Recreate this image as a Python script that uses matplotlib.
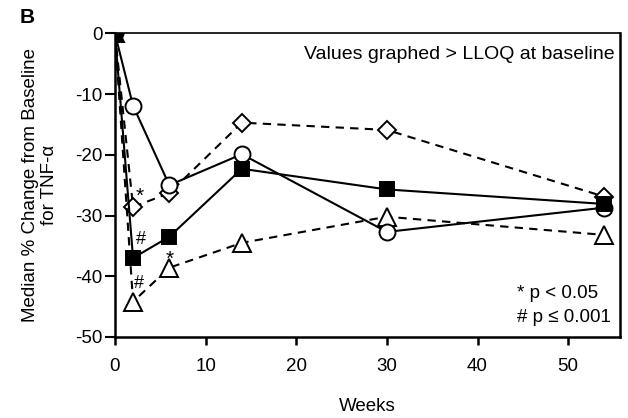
import matplotlib
matplotlib.use("Agg")
import matplotlib.pyplot as plt

plt.rcParams['font.family'] = ['Liberation Sans', 'DejaVu Sans']
plt.rcParams['axes.unicode_minus'] = False

weeks = [0, 2, 6, 14, 30, 54]
circle_vals = [0, -11.9, -25.0, -19.9, -32.7, -28.7]
square_vals = [0, -37.0, -33.5, -22.3, -25.7, -28.1]
diamond_vals = [0, -28.6, -26.3, -14.7, -15.9, -26.9]
triangle_vals = [0, -44.2, -38.6, -34.5, -30.2, -33.2]

xticks = [0, 10, 20, 30, 40, 50]
yticks = [0, -10, -20, -30, -40, -50]

fig = plt.figure(figsize=(6.28, 4.18), dpi=100)
ax = fig.add_axes([0.183, 0.194, 0.804, 0.726])

lw = 1.5
ax.plot(weeks, diamond_vals, ls=(0, (4, 3)), color='black', lw=lw, marker='D',
        ms=9, mfc='white', mec='black', mew=1.4, zorder=3)
ax.plot(weeks, triangle_vals, ls=(0, (4, 3)), color='black', lw=lw, marker='^',
        ms=13, mfc='white', mec='black', mew=1.4, zorder=3)
ax.plot(weeks, circle_vals, ls='-', color='black', lw=lw, marker='o',
        ms=11.5, mfc='white', mec='black', mew=1.4, zorder=4)
ax.plot(weeks, square_vals, ls='-', color='black', lw=lw, marker='s',
        ms=9.5, mfc='black', mec='black', mew=1.4, zorder=5)

ax.set_xlim(0, 55.7)
ax.set_ylim(-50, 0)
ax.set_xticks(xticks)
ax.set_yticks(yticks)
ax.tick_params(axis='x', direction='out', length=6, width=1.8, labelsize=13.5, pad=9)
ax.tick_params(axis='y', direction='out', length=7, width=1.5, labelsize=13.5, pad=2)
for s in ax.spines.values():
    s.set_linewidth(1.8)
ax.spines['top'].set_linewidth(1.2)

ax.set_xlabel('Weeks', fontsize=13.5, labelpad=17)
ax.set_ylabel('Median % Change from Baseline\nfor TNF-\u03b1', fontsize=13.5, labelpad=12)

ax.text(0.99, 0.93, 'Values graphed > LLOQ at baseline', transform=ax.transAxes,
        ha='right', va='center', fontsize=14)
ax.text(0.796, 0.142, '* p < 0.05', transform=ax.transAxes, ha='left', va='center', fontsize=13.5)
ax.text(0.796, 0.063, '# p \u2264 0.001', transform=ax.transAxes, ha='left', va='center', fontsize=13.5)

ax.text(2.7, -26.8, '*', fontsize=15, ha='center', va='center')
ax.text(2.9, -33.9, '#', fontsize=13, ha='center', va='center')
ax.text(6.0, -37.3, '*', fontsize=15, ha='center', va='center')
ax.text(2.6, -41.2, '#', fontsize=13, ha='center', va='center')

fig.text(0.043, 0.957, 'B', fontsize=15, fontweight='bold', ha='center', va='center')

fig.savefig('out.png', dpi=100)
